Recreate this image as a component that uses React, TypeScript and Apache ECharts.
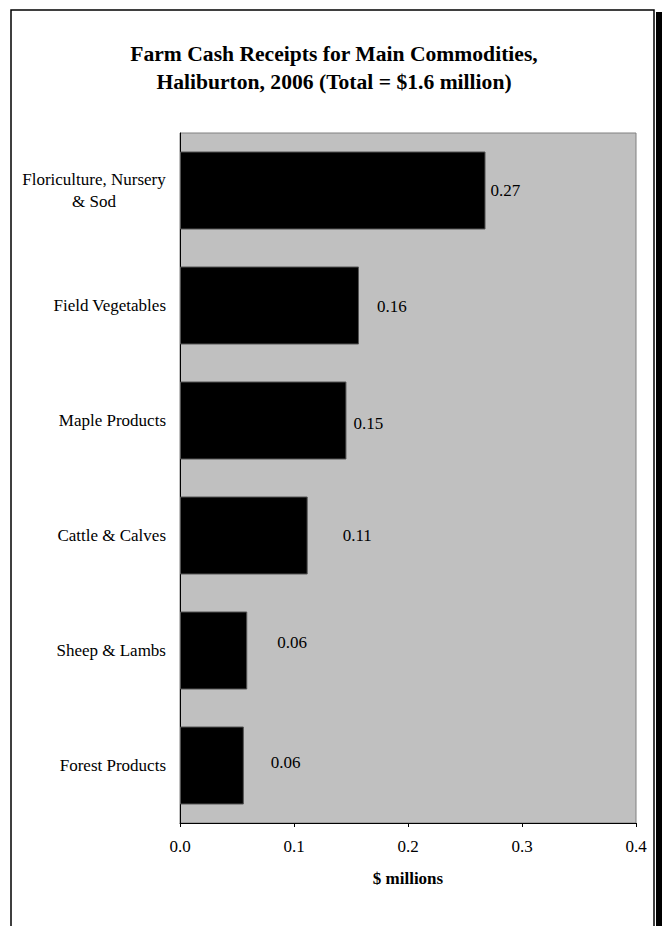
import React, { useEffect, useRef } from "react";
import * as echarts from "echarts";

const titleLines = ["Farm Cash Receipts for Main Commodities,", "Haliburton, 2006 (Total = $1.6 million)"];
const categories = [
  "Floriculture, Nursery\n& Sod",
  "Field Vegetables",
  "Maple Products",
  "Cattle & Calves",
  "Sheep & Lambs",
  "Forest Products",
];
const values = [0.268, 0.157, 0.146, 0.112, 0.059, 0.056];
const xTicks = { min: 0, max: 0.4, interval: 0.1 };
const xAxisName = "$ millions";
// label styling tweaks (distance from bar end, vertical shift), per bar
const labelGap = [5, 18, 7, 35, 30, 27];
const labelShift = [0, 1, 3, 0, -8, -3];

const FONT = "'Liberation Serif', 'Times New Roman', serif";

export default function App() {
  const ref = useRef<HTMLDivElement>(null);
  useEffect(() => {
    if (!ref.current) return;
    const chart = echarts.init(ref.current, null, { renderer: "svg" });
    chart.setOption({
      animation: false,
      backgroundColor: "#ffffff",
      title: {
        text: titleLines.join("\n"),
        left: 334,
        textAlign: "center",
        top: 40,
        padding: 0,
        textStyle: {
          fontFamily: FONT,
          fontSize: 21.6,
          fontWeight: "bold",
          color: "#000",
          lineHeight: 28,
        },
      },
      graphic: [
        {
          type: "rect",
          shape: { x: 11, y: 10, width: 643, height: 960 },
          style: { fill: "none", stroke: "#000", lineWidth: 1.5 },
          silent: true,
        },
        {
          type: "rect",
          shape: { x: 656, y: 12, width: 6, height: 960 },
          style: { fill: "#000" },
          silent: true,
        },
      ],
      grid: {
        left: 180,
        right: 26,
        top: 133,
        bottom: 103,
        show: true,
        backgroundColor: "#C0C0C0",
        borderColor: "#808080",
        borderWidth: 1,
        containLabel: false,
        outerBoundsMode: "none",
      },
      xAxis: {
        type: "value",
        min: xTicks.min,
        max: xTicks.max,
        interval: xTicks.interval,
        name: xAxisName,
        nameLocation: "middle",
        nameGap: 47,
        nameTextStyle: { fontFamily: FONT, fontSize: 17, fontWeight: "bold", color: "#000" },
        axisLine: { show: true, lineStyle: { color: "#000", width: 1 } },
        axisTick: { show: true, length: 4, inside: false, lineStyle: { color: "#000" } },
        splitLine: { show: false },
        axisLabel: {
          fontFamily: FONT,
          fontSize: 17,
          color: "#000",
          margin: 15,
          formatter: (v: number) => v.toFixed(1),
        },
      },
      yAxis: {
        type: "category",
        inverse: true,
        data: categories,
        axisLine: { show: true, lineStyle: { color: "#000", width: 1 } },
        axisTick: { show: false },
        splitLine: { show: false },
        axisLabel: {
          fontFamily: FONT,
          fontSize: 17,
          color: "#000",
          margin: 14,
          lineHeight: 22,
          formatter: (v: string) =>
            v.includes("\n") ? v.split("\n").map((s) => `{c|${s}}`).join("\n") : v,
          rich: {
            c: {
              fontFamily: FONT,
              fontSize: 17,
              color: "#000",
              width: 144,
              align: "center",
              lineHeight: 22,
            },
          },
        },
      },
      series: [
        {
          type: "bar",
          barWidth: 78,
          data: values.map((v, i) => ({
            value: v,
            label: { distance: labelGap[i], offset: [0, labelShift[i]] },
          })),
          itemStyle: { color: "#000", borderColor: "#555", borderWidth: 1 },
          label: {
            show: true,
            position: "right",
            fontFamily: FONT,
            fontSize: 17,
            color: "#000",
            formatter: (p: any) => Number(p.value).toFixed(2),
          },
        },
      ],
    });
    return () => chart.dispose();
  }, []);
  return (
    <div
      ref={ref}
      style={{ position: "fixed", left: 0, top: 0, width: 662, height: 926, background: "#fff" }}
    />
  );
}
